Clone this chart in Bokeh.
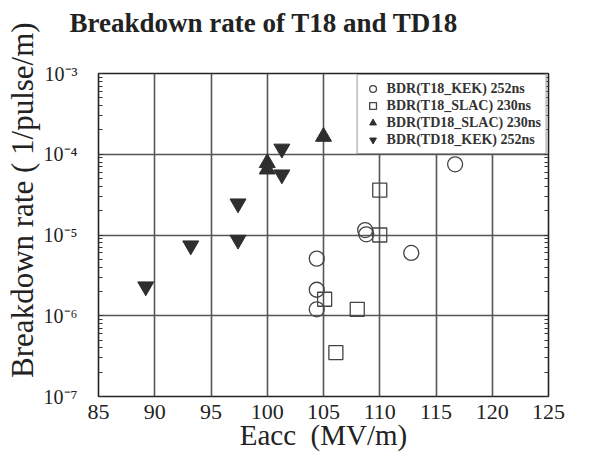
from bokeh.plotting import figure
from bokeh.models import (Legend, LegendItem, LogAxis, FixedTicker, LogTicker,
                          CustomJSTickFormatter, Title, Range1d)
from bokeh.embed import file_html
from bokeh.resources import INLINE

# ---- data ----
t18_kek_x = [116.7, 108.7, 108.8, 112.8, 104.4, 104.4, 104.4]
t18_kek_y = [7.5e-5, 1.15e-5, 1.02e-5, 6.0e-6, 5.1e-6, 2.1e-6, 1.2e-6]

t18_slac_x = [110.0, 110.0, 105.1, 108.0, 106.1]
t18_slac_y = [3.6e-5, 1.0e-5, 1.6e-6, 1.2e-6, 3.5e-7]

td18_slac_x = [100.0, 100.0, 105.0]
td18_slac_y = [7.8e-5, 6.5e-5, 1.65e-4]

td18_kek_x = [101.3, 101.3, 97.4, 97.4, 93.2, 89.2]
td18_kek_y = [1.17e-4, 5.6e-5, 2.45e-5, 8.7e-6, 7.4e-6, 2.3e-6]

legend_labels = ["BDR(T18_KEK) 252ns", "BDR(T18_SLAC) 230ns",
                 "BDR(TD18_SLAC) 230ns", "BDR(TD18_KEK) 252ns"]

x_ticks = [85, 90, 95, 100, 105, 110, 115, 120, 125]
y_exps = [-7, -6, -5, -4, -3]
y_tick_labels = ["10\u207b\u2077", "10\u207b\u2076", "10\u207b\u2075", "10\u207b\u2074", "10\u207b\u00b3"]

title_text = "Breakdown rate of T18 and TD18"
x_label = "Eacc\u00a0\u00a0(MV/m)"
y_label = "\u00a0" * 9 + "Breakdown rate (\u00a01/pulse/m)"

SERIF = "Liberation Serif"
GRID = "#555555"
DARK = "#2e2e2e"

p = figure(width=583, height=453, output_backend="svg", toolbar_location=None,
           y_axis_type="log", x_range=Range1d(85, 125), y_range=Range1d(1e-7, 1e-3),
           min_border_left=98, min_border_right=35, min_border_top=10, min_border_bottom=10)
p.background_fill_color = "white"
p.border_fill_color = "white"
p.outline_line_color = "#222222"
p.outline_line_width = 1.6

p.title = None
# spacer panel between the title and the frame
p.add_layout(Title(text=" ", text_font=SERIF, text_font_size="20px", standoff=7), "above")
p.add_layout(Title(text=title_text, text_font=SERIF, text_font_size="27px",
                   text_font_style="bold", text_color="#222222", align="left",
                   offset=-29, standoff=10), "above")

# axes
xa = p.xaxis[0]
xa.ticker = FixedTicker(ticks=x_ticks)
xa.axis_label = x_label
xa.axis_label_text_font = SERIF
xa.axis_label_text_font_style = "normal"
xa.axis_label_text_font_size = "29px"
xa.axis_label_text_color = "#222222"
xa.axis_label_standoff = -3
xa.major_label_text_font = SERIF
xa.major_label_text_font_size = "22px"
xa.major_label_text_color = "#222222"
xa.major_label_standoff = 2
xa.major_tick_line_color = None
xa.minor_tick_line_color = None
xa.axis_line_color = None

ya = p.yaxis[0]
ya.ticker = LogTicker(num_minor_ticks=10, desired_num_ticks=5)
ya.formatter = CustomJSTickFormatter(args=dict(exps=y_exps, labels=y_tick_labels), code="""
const k = Math.round(Math.log10(tick));
const j = exps.indexOf(k);
return j >= 0 ? labels[j] : '';
""")
ya.axis_label = y_label
ya.axis_label_text_font = SERIF
ya.axis_label_text_font_style = "normal"
ya.axis_label_text_font_size = "31px"
ya.axis_label_text_color = "#222222"
ya.axis_label_standoff = 1
ya.major_label_text_font = SERIF
ya.major_label_text_font_size = "20px"
ya.major_label_text_color = "#222222"
ya.major_label_standoff = 15
ya.major_tick_line_color = None
ya.minor_tick_in = 4
ya.minor_tick_out = 0
ya.minor_tick_line_color = "#333333"
ya.axis_line_color = None

ra = LogAxis(ticker=LogTicker(num_minor_ticks=10, desired_num_ticks=5),
             formatter=CustomJSTickFormatter(code="return ' ';"))
ra.major_label_text_font_size = "10px"
ra.major_tick_line_color = None
ra.minor_tick_in = 4
ra.minor_tick_out = 0
ra.minor_tick_line_color = "#333333"
ra.axis_line_color = None
ra.major_label_standoff = 0
p.add_layout(ra, "right")

p.xgrid.ticker = FixedTicker(ticks=x_ticks)
p.xgrid.grid_line_color = GRID
p.xgrid.grid_line_width = 1.6
p.ygrid.grid_line_color = GRID
p.ygrid.grid_line_width = 1.6

r1 = p.scatter(t18_kek_x, t18_kek_y, marker="circle", size=15, fill_color=None,
               line_color="#444444", line_width=1.3)
r2 = p.scatter(t18_slac_x, t18_slac_y, marker="square", size=14, fill_color=None,
               line_color="#444444", line_width=1.3)
r3 = p.scatter(td18_slac_x, td18_slac_y, marker="triangle", size=16, fill_color=DARK,
               line_color=DARK)
r4 = p.scatter(td18_kek_x, td18_kek_y, marker="inverted_triangle", size=16, fill_color=DARK,
               line_color=DARK)

legend = Legend(items=[LegendItem(label=legend_labels[i], renderers=[r])
                       for i, r in enumerate([r1, r2, r3, r4])],
                location="top_right", orientation="vertical")
legend.label_text_font = SERIF
legend.label_text_font_style = "bold"
legend.label_text_font_size = "14px"
legend.label_text_color = "#333333"
legend.label_height = 15
legend.label_standoff = 4
legend.glyph_height = 17
legend.glyph_width = 20
legend.spacing = 0
legend.padding = 5
legend.margin = 1
legend.border_line_color = "#333333"
legend.border_line_width = 1.3
legend.background_fill_alpha = 1
p.add_layout(legend, "center")

open("out.html", "w").write(file_html(p, INLINE))
